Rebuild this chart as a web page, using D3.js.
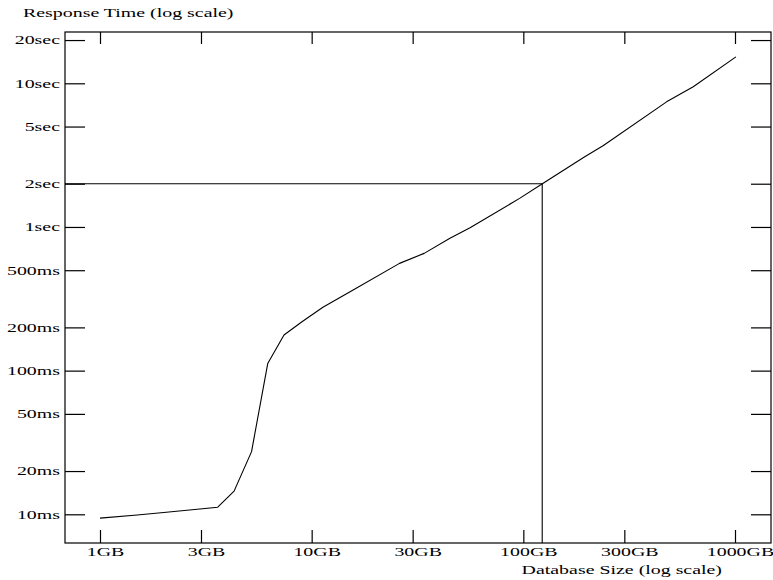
<!DOCTYPE html>
<html>
<head>
<meta charset="utf-8">
<script src="https://cdn.jsdelivr.net/npm/d3@7"></script>
<style>
  body { margin: 0; background: #fff; }
  svg { display: block; }
</style>
</head>
<body>
<script>
// data
var sizesGB = [1, 1.5, 2, 2.8, 3.6, 4.3, 5.2, 6.2, 7.4, 9.0, 11.3, 15.7, 26, 34, 45, 56, 96, 123, 195, 238, 475, 635, 1010];
var timesMs = [9.4, 9.9, 10.3, 10.8, 11.2, 14.5, 27.3, 112, 177, 219, 276, 364, 558, 655, 834, 987, 1581, 2000, 3085, 3673, 7430, 9460, 15280];

var xTicks = [1, 3, 10, 30, 100, 300, 1000];
var xLabels = ["1GB", "3GB", "10GB", "30GB", "100GB", "300GB", "1000GB"];
var yTicks = [10, 20, 50, 100, 200, 500, 1000, 2000, 5000, 10000, 20000];
var yLabels = ["10ms", "20ms", "50ms", "100ms", "200ms", "500ms", "1sec", "2sec", "5sec", "10sec", "20sec"];

var markSize = 122.8;   // GB where the curve crosses 2sec
var markTime = 2000;    // ms

var width = 773, height = 580;
var frame = {left: 65, right: 771, top: 32, bottom: 543};
var font = "'Liberation Serif', 'Times New Roman', serif";
var fontSize = 13, stretch = 1.53;   // the reference type is wide

var svg = d3.select("body")
    .append("svg")
    .attr("width", width)
    .attr("height", height);

var xscale = d3.scaleLog()
    .domain([1, 1000])
    .range([100, 735]);

var yscale = d3.scaleLog()
    .domain([10, 10000])
    .range([514.3, 83.3]);

var data = sizesGB.map((s, i) => [s, timesMs[i]]);

// frame
svg.append("rect")
    .attr("x", frame.left)
    .attr("y", frame.top)
    .attr("width", frame.right - frame.left)
    .attr("height", frame.bottom - frame.top)
    .attr("fill", "none")
    .attr("stroke", "#000")
    .attr("stroke-width", 1.2);

function styleAxis(g) {
    g.select(".domain").remove();
    g.selectAll(".tick line").attr("stroke", "#000").attr("stroke-width", 1.2);
}

// bottom axis with labels
svg.append("g")
    .attr("transform", `translate(0,${frame.bottom})`)
    .call(d3.axisBottom(xscale).tickValues(xTicks)
        .tickFormat((d, i) => xLabels[i]).tickSize(-13).tickSizeOuter(0))
    .call(styleAxis)
    .call(g => g.selectAll(".tick text")
        .attr("y", null).attr("dy", null)
        .attr("transform", `translate(5,13) scale(${stretch},1)`)
        .attr("font-family", font).attr("font-size", fontSize).attr("fill", "#000"));

// top ticks
svg.append("g")
    .attr("transform", `translate(0,${frame.top})`)
    .call(d3.axisTop(xscale).tickValues(xTicks).tickFormat("").tickSize(-12).tickSizeOuter(0))
    .call(styleAxis);

// left axis with labels
svg.append("g")
    .attr("transform", `translate(${frame.left},0)`)
    .call(d3.axisLeft(yscale).tickValues(yTicks)
        .tickFormat((d, i) => yLabels[i]).tickSize(-20).tickSizeOuter(0))
    .call(styleAxis)
    .call(g => g.selectAll(".tick text")
        .attr("x", null).attr("dy", "0.3em")
        .attr("transform", `translate(-5,0) scale(${stretch},1)`)
        .attr("font-family", font).attr("font-size", fontSize).attr("fill", "#000"));

// right ticks
svg.append("g")
    .attr("transform", `translate(${frame.right},0)`)
    .call(d3.axisRight(yscale).tickValues(yTicks).tickFormat("").tickSize(-20).tickSizeOuter(0))
    .call(styleAxis);

// 2sec guide lines
svg.append("line")
    .attr("x1", frame.left)
    .attr("x2", xscale(markSize))
    .attr("y1", yscale(markTime))
    .attr("y2", yscale(markTime))
    .attr("stroke", "#000")
    .attr("stroke-width", 1.1);

svg.append("line")
    .attr("x1", xscale(markSize))
    .attr("x2", xscale(markSize))
    .attr("y1", frame.bottom)
    .attr("y2", yscale(markTime))
    .attr("stroke", "#000")
    .attr("stroke-width", 1.1);

var line = d3.line()
    .x(d => xscale(d[0]))
    .y(d => yscale(d[1]));

svg.append("path")
    .datum(data)
    .attr("fill", "none")
    .attr("stroke", "#000")
    .attr("stroke-width", 1.1)
    .attr("stroke-linejoin", "round")
    .attr("d", line);

// axis titles
svg.append("text")
    .attr("transform", `translate(23,17) scale(${stretch},1)`)
    .attr("font-family", font)
    .attr("font-size", fontSize)
    .text("Response Time (log scale)");

svg.append("text")
    .attr("transform", `translate(722,574) scale(${stretch},1)`)
    .attr("text-anchor", "end")
    .attr("font-family", font)
    .attr("font-size", fontSize)
    .text("Database Size (log scale)");
</script>
</body>
</html>
